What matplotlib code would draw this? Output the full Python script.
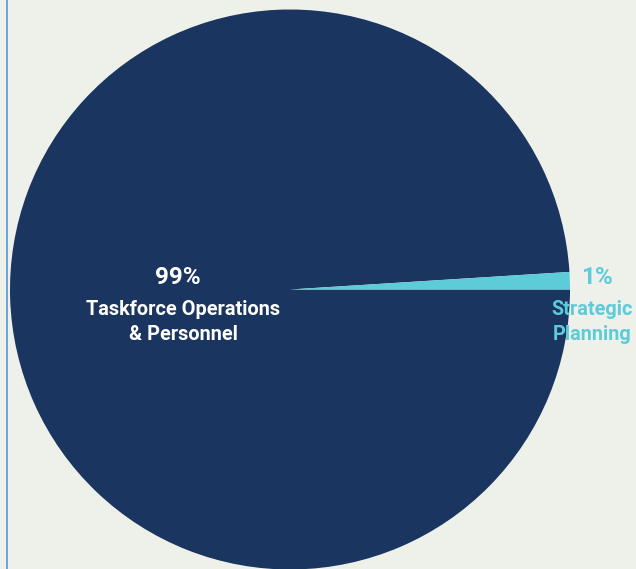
import matplotlib
matplotlib.use("Agg")
import matplotlib.pyplot as plt
from matplotlib.patches import Rectangle

categories = ["Taskforce Operations\n& Personnel", "Strategic\nPlanning"]
values = [99, 1]
pct_labels = ["99%", "1%"]
colors = ["#1a355f", "#5ecbd9"]

W, H = 636, 569
fig = plt.figure(figsize=(W / 100, H / 100), dpi=100)
fig.patch.set_facecolor("#eef0ea")

cx, cy, r = 290, 289.5, 280
ax = fig.add_axes([(cx - r) / W, (H - cy - r) / H, 2 * r / W, 2 * r / H])
ax.set_facecolor("none")
ax.pie(values, colors=colors, startangle=0, counterclock=False,
       radius=1, wedgeprops=dict(linewidth=0))
ax.set_xlim(-1, 1)
ax.set_ylim(-1, 1)
ax.set_aspect("equal")
ax.axis("off")

font = ["Roboto", "DejaVu Sans"]
def d(px, py):
    return (px - cx) / r, (cy - py) / r

# Large slice labels
ax.text(*d(178, 277), pct_labels[0], ha="center", va="center", color="white",
        fontsize=17.5, fontweight="bold", family=font, clip_on=False)
ax.text(*d(183, 322), categories[0], ha="center", va="center", color="white",
        fontsize=14.3, fontweight="bold", family=font, linespacing=1.38, clip_on=False)
# Small slice labels
ax.text(*d(597, 277), pct_labels[1], ha="center", va="center", color=colors[1],
        fontsize=17.5, fontweight="bold", family=font, clip_on=False)
ax.text(*d(592, 322), categories[1], ha="center", va="center", color=colors[1],
        fontsize=14.3, fontweight="bold", family=font, linespacing=1.38, clip_on=False)

fig.add_artist(Rectangle((6.0 / W, 0), 2.2 / W, 1, facecolor="#6fa3dc",
                         edgecolor="none", transform=fig.transFigure))

fig.savefig("out.png", dpi=100, facecolor=fig.get_facecolor())
